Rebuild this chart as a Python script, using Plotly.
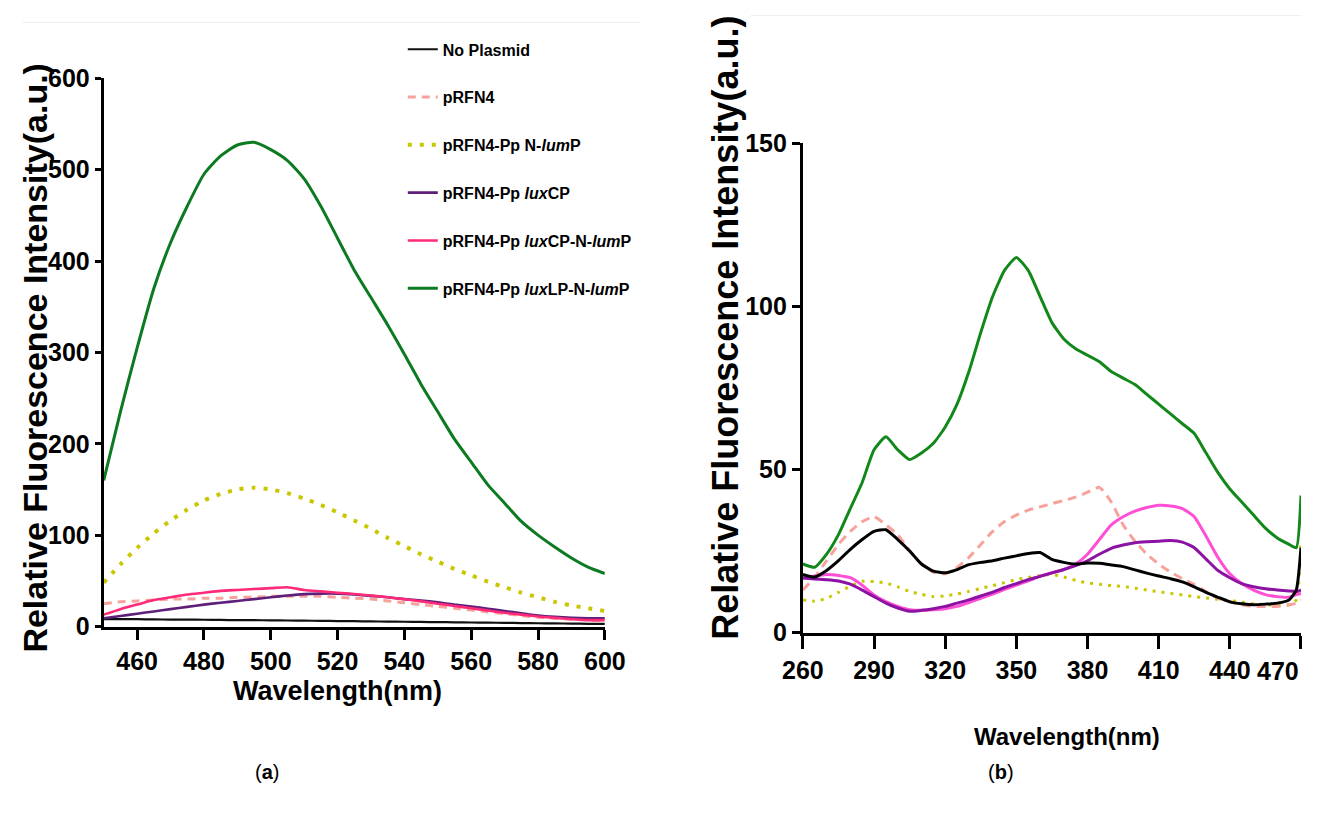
import plotly.graph_objects as go

# ---------------- Panel (a) data ----------------
wl_a = list(range(450, 601, 5))
no_plasmid_a = [8, 8, 8, 7.8, 7.6, 7.5, 7.4, 7.2, 7, 6.9, 6.8, 6.6, 6.4, 6.2, 6, 5.8,
                5.6, 5.4, 5.2, 5, 4.8, 4.6, 4.4, 4.2, 4, 3.8, 3.6, 3.4, 3.2, 3, 2.8]
prfn4_a = [25, 27, 28, 29, 30, 30, 31, 31, 32, 32, 33, 33, 33, 33, 32, 31,
           30, 28, 26, 24, 22, 20, 18, 16, 14, 12, 10, 9, 8, 7, 6]
nlump_a = [48, 68, 86, 102, 116, 128, 138, 145, 150, 152, 150, 146, 140, 133, 125, 116,
           107, 97, 88, 79, 71, 63, 56, 49, 43, 37, 32, 27, 23, 20, 17]
luxcp_a = [9, 11.5, 14, 16.5, 19, 21.5, 24, 26, 28, 30, 32, 34, 35.5, 36, 36, 35,
           33.5, 32, 30, 28.5, 26.5, 24, 22, 19.5, 17, 14.5, 12, 10.5, 9.5, 9, 9]
luxcp_nlump_a = [13, 19, 24, 29, 32, 35, 37, 39, 40, 41, 42, 43, 40, 38.5, 37, 35.5,
                 34, 32, 30, 27.5, 25, 22.5, 20, 17.5, 15, 13, 11, 9.5, 8, 7, 7]
luxlp_nlump_a = [160, 235, 305, 370, 420, 460, 495, 515, 527, 530, 522, 510, 490, 460, 425, 390,
                 360, 330, 298, 265, 235, 205, 180, 155, 135, 115, 100, 87, 75, 65, 58]

# ---------------- Panel (b) data ----------------
wl_b = [260, 265, 270, 275, 280, 285, 290, 295, 300, 305, 310, 315, 320, 325, 330, 335,
        340, 345, 350, 355, 360, 365, 370, 375, 380, 385, 390, 395, 400, 405, 410, 415,
        420, 425, 430, 435, 440, 445, 450, 455, 460, 465, 468, 470]
no_plasmid_b = [17.8, 17, 19, 22, 25.5, 28.5, 31, 31.5, 28.5, 25, 21, 18.8, 18.3, 19.3, 20.8, 21.5,
                22, 22.8, 23.5, 24.2, 24.5, 22.4, 21.5, 21, 21.3, 21.2, 20.7, 20.2, 19.2, 18.2, 17.3, 16.5,
                15.5, 14, 12.3, 10.8, 9.4, 8.8, 8.5, 8.7, 9, 10, 13, 26]
prfn4_b = [13, 17, 22, 27, 31, 34, 35.5, 33, 30, 25, 21, 18.5, 18, 20, 23, 27,
           31, 34, 36, 37.5, 38.5, 39.5, 40.5, 41.5, 43, 44.5, 40, 33, 28, 24, 21, 18.5,
           16.5, 14.7, 12.5, 10.5, 9.5, 8.5, 8, 8, 8, 8.5, 9, 10]
nlump_b = [10, 9.6, 10.5, 12.3, 14.2, 15.7, 15.6, 15.2, 14, 12.6, 11.7, 11, 11.2, 11.8, 12.6, 13.5,
           14.4, 15.3, 16.2, 16.9, 17.4, 17.8, 17, 16, 15.2, 14.8, 14.4, 14.1, 13.6, 13, 12.5, 12,
           11.5, 11, 10.6, 10.2, 9.8, 9.3, 8.8, 8.5, 8.4, 8.5, 10, 28]
luxcp_b = [16.7, 16.4, 16.2, 15.8, 14.8, 13, 11, 9, 7.5, 6.5, 6.8, 7.3, 8, 9, 10, 11.2,
           12.4, 13.8, 15, 16.2, 17.2, 18.3, 19.3, 20.5, 22, 24, 25.8, 26.8, 27.5, 27.8, 28, 28.2,
           27.7, 26, 22.5, 19, 16.8, 15, 14, 13.4, 13, 12.7, 12.6, 13]
luxcp_nlump_b = [16.7, 17.3, 17.8, 17.5, 16.8, 14.5, 11.5, 9.5, 8, 7, 6.8, 7, 7.3, 8, 9.2, 10.5,
                 11.8, 13.2, 14.5, 15.8, 17.3, 18.3, 19.3, 21, 24, 28.5, 33, 35.5, 37.2, 38.3, 39, 38.8,
                 38, 35.5, 29.5, 23, 18, 15, 13, 11.6, 11, 10.8, 11.6, 12]
luxlp_nlump_b = [21, 20, 24, 30, 38, 46, 56, 60, 56, 53, 55, 58, 63, 70, 80, 92,
                 103, 111, 115, 111, 103, 95, 90, 87, 85, 83, 80, 78, 76, 73, 70, 67,
                 64, 61, 55, 49, 44, 40, 36, 32, 29, 27, 26, 42]

ticks_a_x = list(range(460, 601, 20))
ticks_a_y = list(range(0, 601, 100))
ticks_b_x = list(range(260, 471, 30))
ticks_b_y = [0, 50, 100, 150]

names = ["No Plasmid", "pRFN4", "pRFN4-Pp N-<i>lum</i>P", "pRFN4-Pp <i>lux</i>CP",
         "pRFN4-Pp <i>lux</i>CP-N-<i>lum</i>P", "pRFN4-Pp <i>lux</i>LP-N-<i>lum</i>P"]

W, H = 1322, 814
# the photographed page shows the figure slightly reduced about its centre;
# these helpers convert target photo pixels into paper fractions
SX, OX, SY, OY = 0.968, 20.3, 0.967, 13.6
def px(x): return min(1.0, max(0.0, ((x - OX) / SX) / W))
def py(y): return min(1.0, max(0.0, 1 - ((y - OY) / SY) / H))

fig = go.Figure()

# Panel a traces
styles_a = [
    dict(color="#111111", width=2.2),
    dict(color="#F7A39C", width=3, dash="8px,6px"),
    dict(color="#C9C800", width=4, dash="4px,8px"),
    dict(color="#5E1F7A", width=2.6),
    dict(color="#FF2A78", width=2.6),
    dict(color="#0B7A20", width=3),
]
series_a = [no_plasmid_a, prfn4_a, nlump_a, luxcp_a, luxcp_nlump_a, luxlp_nlump_a]
for i, (nm, ys, st) in enumerate(zip(names, series_a, styles_a)):
    fig.add_trace(go.Scatter(x=wl_a, y=ys, mode="lines", name="<b>" + nm + "</b>",
                             line=dict(shape="spline", smoothing=0.6, **st),
                             xaxis="x", yaxis="y", legendgroup="g%d" % i, showlegend=True))

# Panel b traces
styles_b = [
    dict(color="#000000", width=3),
    dict(color="#F7A39C", width=3, dash="9px,6px"),
    dict(color="#C9C800", width=3, dash="3px,6px"),
    dict(color="#8C12A3", width=3),
    dict(color="#FF4FD6", width=3),
    dict(color="#13881A", width=3),
]
series_b = [no_plasmid_b, prfn4_b, nlump_b, luxcp_b, luxcp_nlump_b, luxlp_nlump_b]
order_b = [2, 1, 4, 3, 0, 5]
for i in order_b:
    fig.add_trace(go.Scatter(x=wl_b, y=series_b[i], mode="lines", name=names[i],
                             line=dict(shape="spline", smoothing=0.5, **styles_b[i]),
                             xaxis="x2", yaxis="y2", showlegend=False))

bold_font = "Liberation Sans, Arial, sans-serif"
tick_font = dict(family=bold_font, size=25, color="black", weight="bold")

common_ax = dict(showline=True, linecolor="black", linewidth=3, ticks="outside",
                 tickcolor="black", tickwidth=3, showgrid=False, zeroline=False)

# last x tick label of panel b sits at the very edge: draw it as an annotation that stays inside
ticktext_b_x = [str(v) for v in ticks_b_x[:-1]] + [""]

fig.update_layout(
    width=W, height=H, margin=dict(l=0, r=0, t=0, b=0),
    paper_bgcolor="white", plot_bgcolor="white",
    xaxis=dict(domain=[px(103), px(604)], range=[450, 600], anchor="y",
               tickvals=ticks_a_x, ticklen=10, tickfont=tick_font, **common_ax),
    yaxis=dict(domain=[py(627), py(78)], range=[0, 600], anchor="x",
               tickvals=ticks_a_y, ticklen=6, tickfont=tick_font, **common_ax),
    xaxis2=dict(domain=[px(802), px(1301)], range=[260, 470], anchor="y2",
                tickvals=ticks_b_x, ticktext=ticktext_b_x, ticklen=13, tickfont=tick_font, **common_ax),
    yaxis2=dict(domain=[py(633), py(143)], range=[0, 150], anchor="x2",
                tickvals=ticks_b_y, ticklen=8, tickfont=tick_font, **common_ax),
    legend=dict(x=px(402), y=py(32), xanchor="left", yanchor="top",
                font=dict(family=bold_font, size=16, color="black"),
                traceorder="grouped", tracegroupgap=24, bgcolor="rgba(0,0,0,0)"),
    showlegend=True,
)

annos = [
    dict(text="<b>Relative Fluorescence Intensity(a.u.)</b>", x=px(34), y=py(358), textangle=-90,
         font=dict(family=bold_font, size=34, color="black")),
    dict(text="<b>Wavelength(nm)</b>", x=px(337), y=py(692),
         font=dict(family=bold_font, size=27, color="black")),
    dict(text="<b>Relative Fluorescence Intensity(a.u.)</b>", x=px(725), y=py(328), textangle=-90,
         font=dict(family=bold_font, size=36, color="black")),
    dict(text="<b>Wavelength(nm)</b>", x=px(1066), y=py(737),
         font=dict(family=bold_font, size=24, color="black")),
    dict(text="(<b>a</b>)", x=px(266), y=py(773), font=dict(family=bold_font, size=20, color="black")),
    dict(text="(<b>b</b>)", x=px(1000), y=py(773), font=dict(family=bold_font, size=20, color="black")),
]
for a in annos:
    fig.add_annotation(xref="paper", yref="paper", xanchor="center", yanchor="middle",
                       showarrow=False, **a)

fig.add_annotation(text="<b>%d</b>" % ticks_b_x[-1], xref="paper", yref="paper",
                   x=1.0, y=py(672), xanchor="right", yanchor="middle", showarrow=False,
                   font=dict(family=bold_font, size=25, color="black"))

# faint frame lines at top of each panel image
fig.add_shape(type="line", xref="paper", yref="paper", x0=px(22), x1=px(640), y0=py(22), y1=py(22),
              line=dict(color="#EEEEEE", width=1))
fig.add_shape(type="line", xref="paper", yref="paper", x0=px(750), x1=px(1322), y0=py(15), y1=py(15),
              line=dict(color="#EEEEEE", width=1))

post = ("document.documentElement.style.margin='0';document.body.style.margin='0';"
        "document.body.style.padding='0';"
        "document.documentElement.style.overflow='hidden';document.body.style.overflow='hidden';")

fig.write_html("out.html", config={"displayModeBar": False}, post_script=post)
